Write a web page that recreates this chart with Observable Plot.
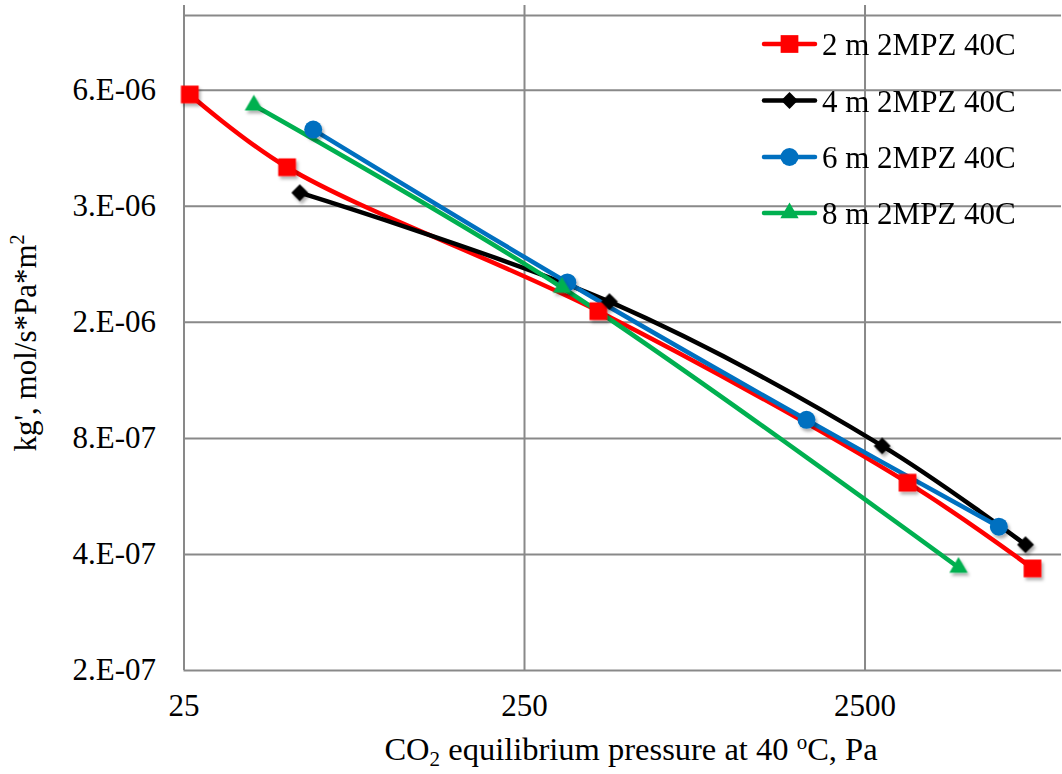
<!DOCTYPE html>
<html>
<head>
<meta charset="utf-8">
<script src="https://cdn.jsdelivr.net/npm/d3@7"></script>
<script src="https://cdn.jsdelivr.net/npm/@observablehq/plot@0.6"></script>
<style>
  html, body { margin: 0; padding: 0; background: #fff; }
  #wrap { position: relative; width: 1062px; height: 774px; font-family: "Liberation Serif", "Times New Roman", serif; }
  #legend { position: absolute; left: 0; top: 0; pointer-events: none; }
</style>
</head>
<body>
<div id="wrap"></div>
<script>
// ---- data ----
const seriesNames = ["2 m 2MPZ 40C", "4 m 2MPZ 40C", "6 m 2MPZ 40C", "8 m 2MPZ 40C"];
const seriesColors = ["#FF0000", "#000000", "#0070C0", "#00B050"];
const seriesSymbols = ["square", "diamond2", "circle", "triangle"];
const seriesRadii = [10, 7.6, 9, 6.8];

const x2m = [26.0, 50.2, 412, 3333, 7760];
const y2m = [6.24e-6, 4.04e-6, 1.71e-6, 6.14e-7, 3.68e-7];
const x4m = [54.7, 444, 2808, 7402];
const y4m = [3.47e-6, 1.81e-6, 7.65e-7, 4.24e-7];
const x6m = [59.9, 334, 1683, 6180];
const y6m = [5.06e-6, 2.03e-6, 8.94e-7, 4.72e-7];
const x8m = [40.1, 322, 4705];
const y8m = [5.85e-6, 1.97e-6, 3.70e-7];

const xTicks = [25, 250, 2500];
const xTickLabels = ["25", "250", "2500"];
const yTicks = [2e-7, 4e-7, 8e-7, 1.6e-6, 3.2e-6, 6.4e-6];
const yTickLabels = ["2.E-07", "4.E-07", "8.E-07", "2.E-06", "3.E-06", "6.E-06"];
const xDomain = [25, 9440];
const yDomain = [2e-7, 1e-5];

// ---- build tables ----
const xs = [x2m, x4m, x6m, x8m];
const ys = [y2m, y4m, y6m, y8m];
const rows = [];
seriesNames.forEach((s, i) => xs[i].forEach((x, j) => rows.push({ s, x, y: ys[i][j] })));
const yTickRows = yTicks.map((v, i) => ({ v, label: yTickLabels[i] }));
const xTickRows = xTicks.map((v, i) => ({ v, label: xTickLabels[i] }));
const hGrid = [...yTicks, yDomain[1]].map(v => ({ v }));

const font = '"Liberation Serif", "Times New Roman", serif';
const grid = "#898989";

const lineMarks = seriesNames.map((s, i) =>
  Plot.line(rows.filter(d => d.s === s), {
    x: "x", y: "y", stroke: seriesColors[i], strokeWidth: 4.5,
    curve: "catmull-rom", strokeLinejoin: "round", strokeLinecap: "round"
  }));
const dotMarks = seriesNames.map((s, i) =>
  Plot.dot(rows.filter(d => d.s === s), {
    x: "x", y: "y", fill: seriesColors[i], symbol: seriesSymbols[i], r: seriesRadii[i], stroke: "none",
    className: "mk"
  }));

const plot = Plot.plot({
  width: 1062,
  height: 774,
  marginLeft: 183.5,
  marginRight: 1,
  marginTop: 15,
  marginBottom: 104,
  style: { fontFamily: font, fontSize: "31px", color: "#000", background: "transparent", overflow: "visible" },
  x: { type: "log", domain: xDomain, axis: null },
  y: { type: "log", domain: yDomain, axis: null },
  marks: [
    Plot.ruleY(hGrid, { y: "v", stroke: grid, strokeWidth: 2 }),
    Plot.ruleX(xTickRows, { x: "v", y1: yDomain[0], y2: 1.062e-5, stroke: grid, strokeWidth: 2 }),
    Plot.text(xTickRows, { x: "v", text: "label", frameAnchor: "bottom", dy: 45, fontSize: 31, fill: "#000" }),
    Plot.text(yTickRows, { y: "v", text: "label", frameAnchor: "left", textAnchor: "end", dx: -28, fontSize: 31, fill: "#000" }),
    ...lineMarks,
    ...dotMarks
  ]
});
document.getElementById("wrap").appendChild(plot);

// ---- soft drop shadow under markers, as in the reference ----
const svg = d3.select(plot);
const defs = svg.append("defs");
const f = defs.append("filter").attr("id", "mkshadow").attr("x", "-50%").attr("y", "-50%").attr("width", "200%").attr("height", "200%");
f.append("feDropShadow").attr("dx", 2).attr("dy", 3).attr("stdDeviation", 1.8).attr("flood-color", "#000").attr("flood-opacity", 0.3);
svg.selectAll("g.mk").attr("filter", "url(#mkshadow)");

// ---- axis titles with sub/superscripts ----
const xt = svg.append("text")
  .attr("x", 631).attr("y", 760)
  .attr("text-anchor", "middle")
  .attr("font-family", font).attr("font-size", 32.5).attr("fill", "#000");
xt.append("tspan").text("CO");
xt.append("tspan").attr("font-size", 21).attr("dy", 6).text("2");
xt.append("tspan").attr("dy", -6).text(" equilibrium pressure at 40 ");
xt.append("tspan").attr("font-size", 21).attr("dy", -11).text("o");
xt.append("tspan").attr("dy", 11).text("C, Pa");

const yt = svg.append("text")
  .attr("transform", "translate(36,343) rotate(-90)")
  .attr("text-anchor", "middle")
  .attr("font-family", font).attr("font-size", 31).attr("fill", "#000");
yt.append("tspan").text("kg', mol/s*Pa*m");
yt.append("tspan").attr("font-size", 20).attr("dy", -12).text("2");

// ---- legend (transparent, drawn over the plot) ----
const leg = d3.select("#wrap").append("svg")
  .attr("id", "legend").attr("width", 1062).attr("height", 774);
const legY = [44, 100.5, 157, 213];
seriesNames.forEach((s, i) => {
  const g = leg.append("g").attr("transform", `translate(0,${legY[i]})`);
  g.append("line").attr("x1", 764).attr("x2", 815).attr("y1", 0).attr("y2", 0)
    .attr("stroke", seriesColors[i]).attr("stroke-width", 4.5).attr("stroke-linecap", "round");
  const sym = { square: d3.symbolSquare, diamond2: d3.symbolDiamond2, circle: d3.symbolCircle, triangle: d3.symbolTriangle }[seriesSymbols[i]];
  g.append("path").attr("transform", "translate(789.5,0)")
    .attr("d", d3.symbol(sym, Math.PI * seriesRadii[i] * seriesRadii[i])())
    .attr("fill", seriesColors[i]);
  g.append("text").attr("x", 822).attr("y", 11)
    .attr("font-family", font).attr("font-size", 31).attr("fill", "#000").text(s);
});
</script>
</body>
</html>
